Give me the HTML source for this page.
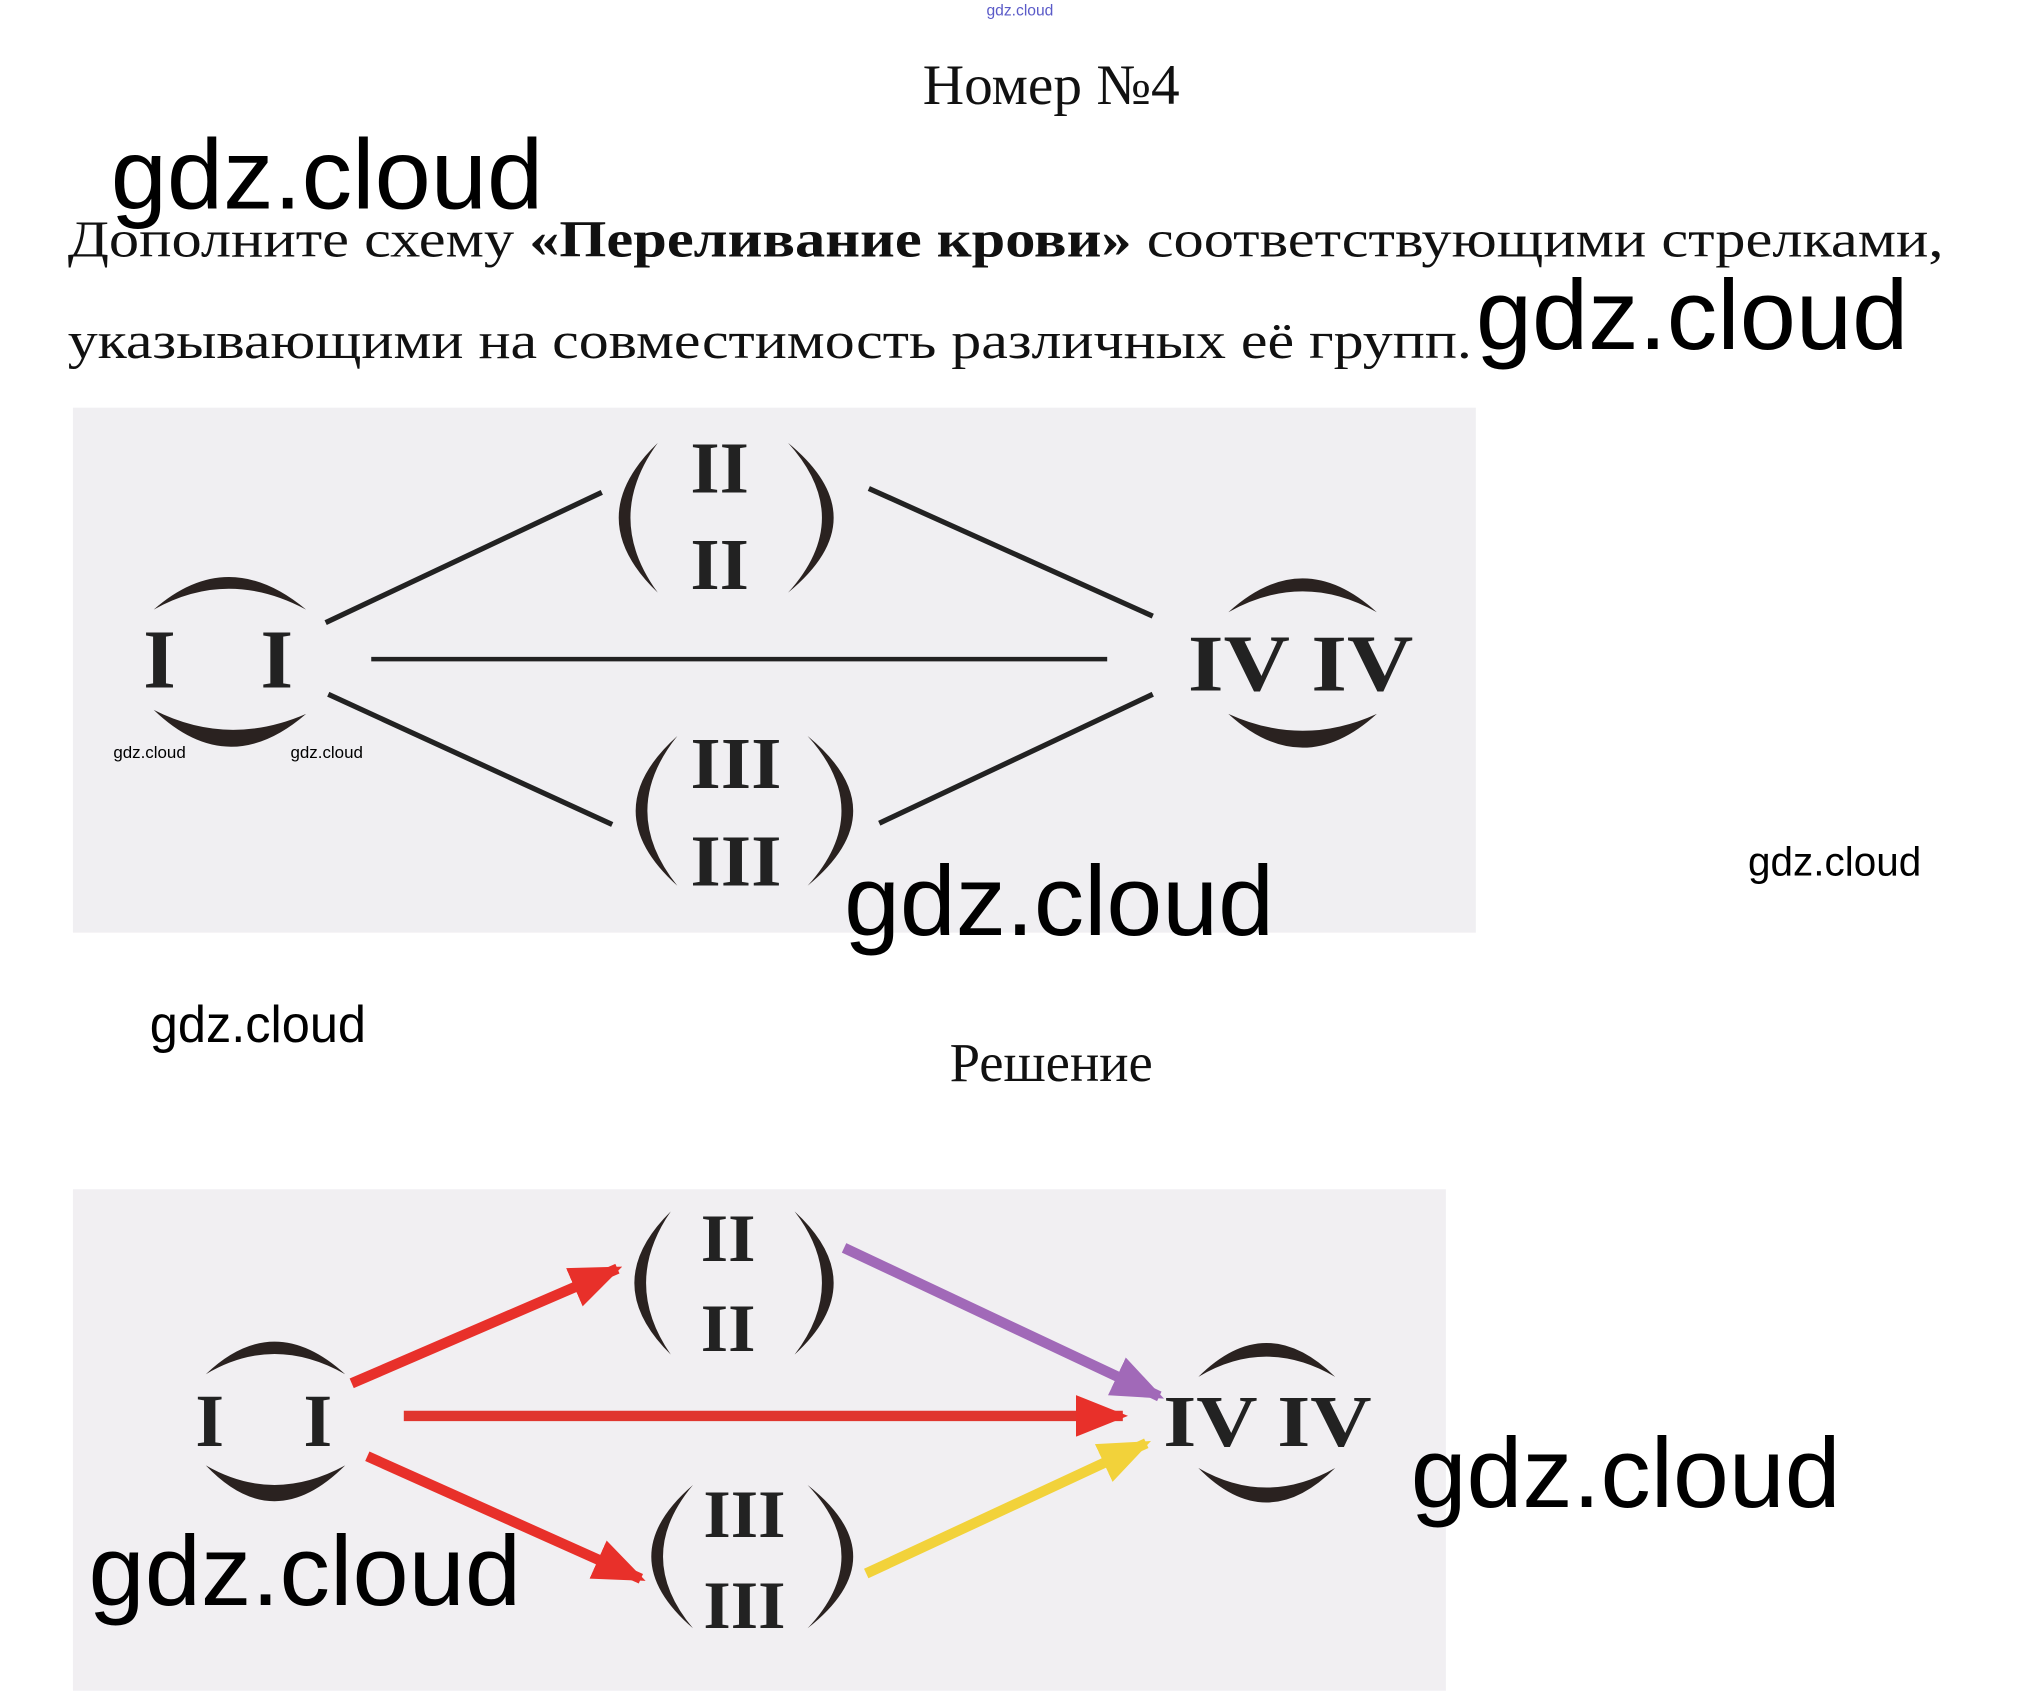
<!DOCTYPE html>
<html><head><meta charset="utf-8"><style>
html,body{margin:0;padding:0;background:#fff;}
svg{display:block;}
.s{font-family:"Liberation Serif","DejaVu Serif",serif;fill:#111;}
.n{font-family:"Liberation Serif","DejaVu Serif",serif;fill:#222;font-weight:bold;}
.w{font-family:"Liberation Sans","DejaVu Sans",sans-serif;fill:#000;}
</style></head><body>
<svg width="2019" height="1697" viewBox="0 0 1550 1302.8" preserveAspectRatio="none" xmlns="http://www.w3.org/2000/svg">
<defs>
<marker id="mr" markerWidth="5" markerHeight="4" refX="4.5" refY="2" orient="auto" markerUnits="strokeWidth"><path d="M0,0 L5,2 L0,4 z" fill="#e8302a"/></marker>
<marker id="mp" markerWidth="5" markerHeight="4" refX="4.5" refY="2" orient="auto" markerUnits="strokeWidth"><path d="M0,0 L5,2 L0,4 z" fill="#a169b8"/></marker>
<marker id="my" markerWidth="5" markerHeight="4" refX="4.5" refY="2" orient="auto" markerUnits="strokeWidth"><path d="M0,0 L5,2 L0,4 z" fill="#f2d23a"/></marker>
</defs>
<text x="783" y="12" font-size="12" text-anchor="middle" fill="#5a5ac8" font-family="Liberation Sans,sans-serif">gdz.cloud</text>
<text class="s" x="807" y="80" font-size="44" text-anchor="middle">Номер №4</text>
<text class="s" x="52" y="197" font-size="40" textLength="1440" lengthAdjust="spacingAndGlyphs">Дополните схему <tspan font-weight="bold">«Переливание крови»</tspan> соответствующими стрелками,</text>
<text class="s" x="52" y="275" font-size="40" textLength="1078" lengthAdjust="spacingAndGlyphs">указывающими на совместимость различных её групп.</text>
<text class="w" x="85" y="160" font-size="76" textLength="332" lengthAdjust="spacingAndGlyphs">gdz.cloud</text>
<text class="w" x="1133" y="268" font-size="76" textLength="332" lengthAdjust="spacingAndGlyphs">gdz.cloud</text>

<rect x="56" y="313" width="1077" height="403" fill="#f0eff2"/>
<g stroke="#222" stroke-width="4" fill="none">
<line x1="250" y1="478" x2="462" y2="378"/>
<line x1="667" y1="375" x2="885" y2="473"/>
<line x1="285" y1="506" x2="850" y2="506" stroke-width="3.5"/>
<line x1="252" y1="533" x2="470" y2="633"/>
<line x1="675" y1="632" x2="885" y2="533"/>
</g>
<g fill="#2a2220">
<path d="M118,468 Q175,418 235,468 Q175,436 118,468z"/>
<path d="M118,545 Q175,600 235,548 Q175,574 118,545z"/>
<path d="M943,470 Q1000,418 1057,470 Q1000,438 943,470z"/>
<path d="M943,548 Q1000,600 1057,548 Q1000,574 943,548z"/>
<path d="M505,340 Q445,397.5 505,455 Q463,397.5 505,340z"/>
<path d="M605,340 Q675,397.5 605,455 Q657,397.5 605,340z"/>
<path d="M520,565 Q456,622.5 520,680 Q474,622.5 520,565z"/>
<path d="M620,565 Q690,622.5 620,680 Q672,622.5 620,565z"/>
</g>
<text class="n" x="110" y="528" font-size="64" textLength="25" lengthAdjust="spacingAndGlyphs">I</text>
<text class="n" x="200" y="528" font-size="64" textLength="25" lengthAdjust="spacingAndGlyphs">I</text>
<text class="n" x="912" y="530" font-size="62" textLength="173" lengthAdjust="spacingAndGlyphs">IV IV</text>
<text class="n" x="530" y="378" font-size="56" textLength="45" lengthAdjust="spacingAndGlyphs">II</text>
<text class="n" x="530" y="452" font-size="56" textLength="45" lengthAdjust="spacingAndGlyphs">II</text>
<text class="n" x="530" y="605" font-size="56" textLength="70" lengthAdjust="spacingAndGlyphs">III</text>
<text class="n" x="530" y="680" font-size="56" textLength="70" lengthAdjust="spacingAndGlyphs">III</text>
<text class="w" x="87" y="582" font-size="13">gdz.cloud</text>
<text class="w" x="223" y="582" font-size="13">gdz.cloud</text>
<text class="w" x="648" y="718" font-size="76" textLength="330" lengthAdjust="spacingAndGlyphs">gdz.cloud</text>
<text class="w" x="1342" y="672" font-size="31" textLength="133" lengthAdjust="spacingAndGlyphs">gdz.cloud</text>
<text class="w" x="115" y="800" font-size="40" textLength="166" lengthAdjust="spacingAndGlyphs">gdz.cloud</text>
<text class="s" x="807" y="830" font-size="42" text-anchor="middle">Решение</text>

<rect x="56" y="913" width="1054" height="385" fill="#f1eff2"/>
<g fill="#2a2220">
<path d="M158,1055 Q210,1005 265,1055 Q210,1024 158,1055z"/>
<path d="M158,1125 Q210,1180 265,1125 Q210,1155 158,1125z"/>
<path d="M920,1057 Q972,1005 1025,1057 Q972,1026 920,1057z"/>
<path d="M920,1127 Q972,1180 1025,1127 Q972,1157 920,1127z"/>
<path d="M515,930 Q459,985 515,1040 Q477,985 515,930z"/>
<path d="M610,930 Q670,985 610,1040 Q652,985 610,930z"/>
<path d="M532,1140 Q468,1195 532,1250 Q486,1195 532,1140z"/>
<path d="M620,1140 Q690,1195 620,1250 Q672,1195 620,1140z"/>
</g>
<text class="n" x="150" y="1110" font-size="58" textLength="22" lengthAdjust="spacingAndGlyphs">I</text>
<text class="n" x="233" y="1110" font-size="58" textLength="22" lengthAdjust="spacingAndGlyphs">I</text>
<text class="n" x="893" y="1110" font-size="56" textLength="160" lengthAdjust="spacingAndGlyphs">IV IV</text>
<text class="n" x="538" y="968" font-size="52" textLength="42" lengthAdjust="spacingAndGlyphs">II</text>
<text class="n" x="538" y="1037" font-size="52" textLength="42" lengthAdjust="spacingAndGlyphs">II</text>
<text class="n" x="540" y="1180" font-size="52" textLength="63" lengthAdjust="spacingAndGlyphs">III</text>
<text class="n" x="540" y="1250" font-size="52" textLength="63" lengthAdjust="spacingAndGlyphs">III</text>
<g stroke-width="8" fill="none">
<line x1="270" y1="1062" x2="474" y2="974" stroke="#e8302a" marker-end="url(#mr)"/>
<line x1="310" y1="1087" x2="862" y2="1087" stroke="#e0352e" marker-end="url(#mr)"/>
<line x1="282" y1="1118" x2="492" y2="1212" stroke="#e8302a" marker-end="url(#mr)"/>
<line x1="648" y1="958" x2="890" y2="1072" stroke="#a169b8" marker-end="url(#mp)"/>
<line x1="665" y1="1208" x2="880" y2="1108" stroke="#f2d23a" marker-end="url(#my)"/>
</g>
<text class="w" x="68" y="1232" font-size="76" textLength="332" lengthAdjust="spacingAndGlyphs">gdz.cloud</text>
<text class="w" x="1083" y="1157" font-size="76" textLength="330" lengthAdjust="spacingAndGlyphs">gdz.cloud</text>
</svg>
</body></html>
